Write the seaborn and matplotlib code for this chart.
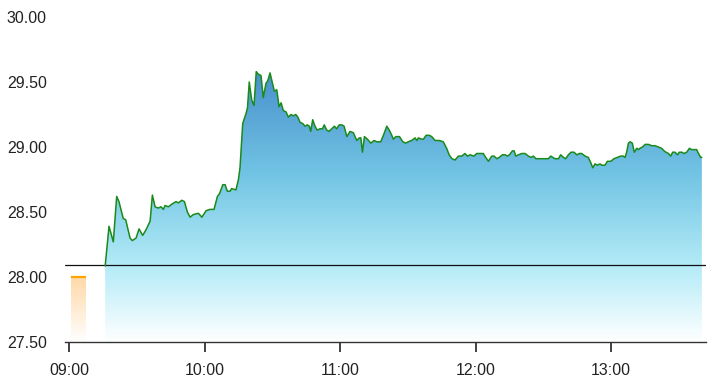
import numpy as np
import pandas as pd
import matplotlib
matplotlib.use("Agg")
import matplotlib.pyplot as plt
from matplotlib.colors import LinearSegmentedColormap
from matplotlib.patches import Rectangle
import seaborn as sns

# ---- data (minutes after 09:00, price) ----
minutes = [16.0, 17.7, 19.6, 21.1, 22.1, 24.0, 25.1, 27.0, 28.0, 29.7, 31.0, 32.6,
           34.0, 35.9, 36.9, 38.1, 39.5, 40.7, 41.8, 42.5, 44.0, 45.5, 47.4, 48.4,
           49.9, 51.1, 52.4, 53.6, 55.0, 57.3, 58.8, 60.7, 62.4, 64.2, 65.7, 66.6,
           68.1, 69.1, 70.1, 71.3, 72.0, 73.9, 75.0, 75.7, 76.9, 78.4, 79.0, 79.8,
           80.9, 81.9, 82.9, 83.8, 85.0, 86.0, 87.2, 88.0, 89.0, 90.2, 90.9, 92.0,
           93.0, 93.9, 94.9, 96.1, 97.1, 98.3, 99.3, 100.4, 101.3, 102.3, 103.5, 104.5,
           105.5, 106.4, 107.0, 107.9, 108.9, 109.9, 111.1, 112.2, 113.0, 114.1, 115.1, 116.3,
           117.5, 118.5, 119.6, 120.8, 121.8, 123.0, 124.4, 125.9, 127.4, 128.5, 129.2, 129.9,
           130.8, 132.1, 133.6, 135.1, 136.3, 138.0, 139.2, 140.7, 141.8, 142.9, 143.6, 144.7,
           146.3, 147.8, 149.1, 150.2, 151.7, 153.2, 154.0, 154.7, 156.2, 156.9, 158.1, 159.5,
           160.6, 162.1, 164.0, 165.7, 167.2, 168.3, 169.5, 170.9, 172.4, 173.9, 175.3, 176.4,
           177.6, 179.3, 180.5, 181.6, 183.4, 184.5, 185.7, 187.2, 188.2, 189.4, 190.5, 191.9,
           193.1, 194.1, 195.0, 196.3, 197.1, 197.8, 199.0, 200.5, 201.9, 203.4, 204.6, 205.6,
           206.7, 208.6, 210.8, 212.2, 213.3, 214.2, 215.2, 216.7, 217.7, 218.9, 219.9, 221.1,
           222.3, 223.6, 224.8, 226.0, 227.0, 228.5, 229.9, 231.0, 231.9, 232.9, 233.9, 235.1,
           235.9, 237.3, 238.4, 239.9, 241.3, 242.8, 244.3, 245.4, 246.2, 246.9, 247.7, 248.4,
           249.4, 250.3, 251.4, 252.1, 252.8, 253.9, 255.1, 256.5, 258.0, 259.5, 260.9, 262.4,
           263.5, 264.3, 265.4, 266.4, 267.3, 268.3, 269.4, 270.2, 271.3, 272.3, 273.5, 274.7,
           275.7, 276.8, 277.9, 278.7, 279.7, 280.2]
prices = [28.085, 28.39, 28.27, 28.62, 28.58, 28.45, 28.44, 28.30, 28.28, 28.30, 28.37, 28.32,
          28.36, 28.43, 28.63, 28.54, 28.53, 28.54, 28.52, 28.55, 28.54, 28.56, 28.58, 28.57,
          28.59, 28.58, 28.50, 28.46, 28.48, 28.49, 28.46, 28.51, 28.52, 28.52, 28.62, 28.64,
          28.71, 28.71, 28.66, 28.66, 28.68, 28.67, 28.75, 28.84, 29.18, 29.26, 29.30, 29.50,
          29.36, 29.32, 29.58, 29.56, 29.55, 29.38, 29.49, 29.51, 29.57, 29.48, 29.43, 29.44,
          29.31, 29.34, 29.28, 29.27, 29.23, 29.25, 29.24, 29.25, 29.23, 29.19, 29.18, 29.16,
          29.17, 29.16, 29.12, 29.21, 29.16, 29.13, 29.14, 29.14, 29.17, 29.13, 29.12, 29.14,
          29.16, 29.14, 29.17, 29.17, 29.16, 29.08, 29.12, 29.11, 29.05, 29.07, 29.07, 28.96,
          29.08, 29.06, 29.03, 29.05, 29.04, 29.04, 29.09, 29.16, 29.13, 29.09, 29.06, 29.08,
          29.08, 29.04, 29.03, 29.04, 29.05, 29.07, 29.05, 29.07, 29.06, 29.06, 29.09, 29.09,
          29.08, 29.05, 29.05, 29.04, 28.99, 28.94, 28.91, 28.90, 28.93, 28.93, 28.95, 28.93,
          28.94, 28.93, 28.95, 28.95, 28.95, 28.92, 28.89, 28.93, 28.93, 28.91, 28.92, 28.94,
          28.94, 28.93, 28.94, 28.97, 28.97, 28.93, 28.94, 28.95, 28.95, 28.93, 28.92, 28.93,
          28.91, 28.91, 28.91, 28.91, 28.93, 28.92, 28.91, 28.91, 28.94, 28.92, 28.91, 28.94,
          28.96, 28.96, 28.94, 28.95, 28.95, 28.93, 28.92, 28.88, 28.84, 28.87, 28.86, 28.87,
          28.86, 28.86, 28.89, 28.89, 28.91, 28.92, 28.93, 28.93, 28.92, 28.96, 29.03, 29.04,
          29.03, 28.96, 28.99, 28.98, 28.99, 29.00, 29.02, 29.02, 29.01, 29.01, 29.00, 28.99,
          28.97, 28.96, 28.95, 28.93, 28.96, 28.96, 28.94, 28.96, 28.96, 28.95, 28.96, 28.99,
          28.98, 28.98, 28.98, 28.95, 28.92, 28.92]
prev_close = 28.09
preopen_start, preopen_end = 1.0, 7.4
preopen_price = 28.00
tick_minutes = [0, 60, 120, 180, 240]
tick_labels = ["09:00", "10:00", "11:00", "12:00", "13:00"]
y_ticks = [27.5, 28.0, 28.5, 29.0, 29.5, 30.0]

df = pd.DataFrame({"minute": minutes, "price": prices})

sns.set_theme(style="white")
plt.rcParams["font.family"] = ["Liberation Sans", "DejaVu Sans"]

fig = plt.figure(figsize=(7.14, 3.92), dpi=100)
ax = fig.add_axes([0.091, 0.1276, 0.898, 0.829])
ymin, ymax = 27.5, 30.0
ax.set_xlim(-1.8, 282.1)
ax.set_ylim(ymin, ymax)

# gradient area under price
cmap = LinearSegmentedColormap.from_list(
    "area", [(0.0, "#ffffff"), (0.28, "#b3ebf7"), (0.62, "#72c4e4"), (1.0, "#4890cc")])
top = max(prices)
grad = np.linspace(0, 1, 256).reshape(-1, 1)
im = ax.imshow(grad, cmap=cmap, aspect="auto", origin="lower",
               extent=(min(minutes), max(minutes), ymin, top), zorder=1)
poly = ax.fill_between(df["minute"], df["price"], ymin, color="none", lw=0)
im.set_clip_path(poly.get_paths()[0], transform=ax.transData)

# pre-open bar with orange gradient
ocmap = LinearSegmentedColormap.from_list("o", [(0, "#ffffff"), (1, "#ffd9a8")])
oim = ax.imshow(grad, cmap=ocmap, aspect="auto", origin="lower",
                extent=(preopen_start, preopen_end, ymin, preopen_price), zorder=1)
rect = Rectangle((preopen_start, ymin), preopen_end - preopen_start, preopen_price - ymin,
                 transform=ax.transData, fc="none", ec="none")
ax.add_patch(rect)
oim.set_clip_path(rect)
ax.hlines(preopen_price, preopen_start, preopen_end, color="#ffa500", lw=1.6, zorder=3)

# previous close reference line
ax.axhline(prev_close, color="#111111", lw=0.9, zorder=2)

# price line
sns.lineplot(data=df, x="minute", y="price", ax=ax, color="#1a8a1a", lw=1.1, zorder=4)

ax.set_xticks(tick_minutes)
ax.set_xticklabels(tick_labels)
ax.set_yticks(y_ticks)
ax.set_yticklabels([f"{v:.2f}" for v in y_ticks])
ax.set_xlabel("")
ax.set_ylabel("")
for s in ["top", "right", "left"]:
    ax.spines[s].set_visible(False)
ax.spines["bottom"].set_color("#333333")
ax.spines["bottom"].set_linewidth(1.0)
ax.tick_params(axis="x", bottom=True, length=7, width=1.2, color="#222222", direction="out",
               labelsize=11.5, labelcolor="#222222", pad=8)
ax.tick_params(axis="y", left=False, length=0, labelsize=11.5, labelcolor="#222222", pad=13)
ax.grid(False)

fig.savefig("out.png", dpi=100)
